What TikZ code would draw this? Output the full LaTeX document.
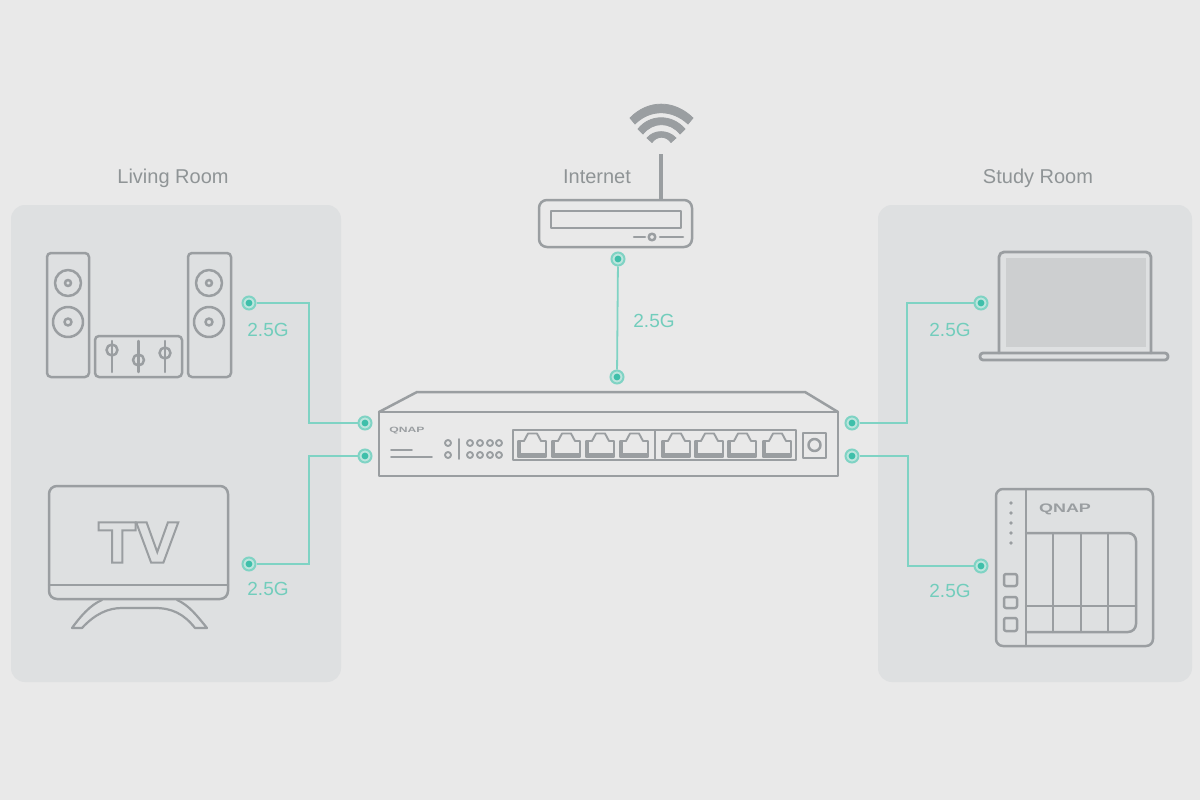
\documentclass[tikz,border=0pt]{standalone}
\usepackage{fontspec}
\setmainfont{Liberation Sans}
\newfontfamily\tvfont{DejaVu Sans}
\definecolor{bgc}{HTML}{E9E9E9}
\definecolor{panelc}{HTML}{DEE0E1}
\definecolor{linec}{HTML}{9A9EA1}
\definecolor{textc}{HTML}{8F9496}
\definecolor{tealc}{HTML}{7FD3C4}
\definecolor{tealfill}{HTML}{BCE5DD}
\definecolor{tealdark}{HTML}{3FBFAA}
\definecolor{tealtext}{HTML}{72CDBC}
\definecolor{screenc}{HTML}{CDCFD0}
\tikzset{
  panel/.style={fill=panelc,rounded corners=14pt,draw=none},
  icon/.style={draw=linec,line width=2.5pt,line join=round,line cap=round},
  thinicon/.style={draw=linec,line width=1.9pt,line join=round,line cap=round},
  link/.style={draw=tealc,line width=1.8pt},
  portdot/.style={circle,draw=tealc,line width=2pt,fill=tealfill,minimum size=13pt,inner sep=0pt,
    path picture={\fill[tealdark] (path picture bounding box.center) circle (3.4pt);}},
  title/.style={text=textc,font=\fontsize{20}{24}\selectfont,inner sep=0pt},
  speed/.style={text=tealtext,font=\fontsize{19}{23}\selectfont,inner sep=0pt},
  logo/.style={text=linec,inner sep=0pt},
}
\newcommand{\rjport}[1]{%
  \fill[linec] (#1-14,441) rectangle (#1-11,457);
  \draw[thinicon] (#1-14,457) -- (#1-14,441) -- (#1-8,441) -- (#1-4,433.5) -- (#1+5,433.5) -- (#1+9,441) -- (#1+14,441) -- (#1+14,457) -- cycle;
  \fill[linec] (#1-14,452.5) rectangle (#1+14,457);
}
\begin{document}
\begin{tikzpicture}[x=1pt,y=-1pt]
\useasboundingbox (0,0) rectangle (1200,800);
\fill[bgc] (0,0) rectangle (1200,800);
\path[panel] (11,205) rectangle (341,682);
\path[panel] (878,205) rectangle (1192,682);

\node[title] (tl) at (173,178.5) {Living Room};
\node[title] (tc) at (597,177) {Internet};
\node[title] (tr) at (1038,178.5) {Study Room};

% speakers
\draw[icon,rounded corners=4pt] (47,253) rectangle (89,377);
\draw[icon,rounded corners=4pt] (188,253) rectangle (231,377);
\draw[icon,rounded corners=4pt] (95,336) rectangle (182,377);
\foreach \x in {68,209}{
  \draw[icon] (\x,283) circle (13);
  \draw[icon] (\x,283) circle (3);
  \draw[icon] (\x,322) circle (15);
  \draw[icon] (\x,322) circle (3.5);
}
\foreach \x/\y in {112/350,138.5/360,165/353}{
  \draw[icon] (\x,341) -- (\x,372);
  \draw[icon] (\x,\y) circle (5.5);
}
% TV
\draw[icon,rounded corners=8pt] (49,486) rectangle (228,599);
\draw[icon] (49,585) -- (228,585);
\node[inner sep=0pt,text=linec] (tv) at (138.5,542.5) {\fontsize{55}{60}\selectfont\tvfont\bfseries\special{pdf:code q 1 Tr 2 w 0 j 0.604 0.62 0.631 RG}TV\special{pdf:code Q}};
\draw[thinicon,line width=2.2pt] (102,600) .. controls (90,605) and (80,617) .. (72,628) -- (82,628)
  .. controls (95,614) and (108,608) .. (122,608) -- (155,608)
  .. controls (172,608) and (184,614) .. (195,628) -- (207,628)
  .. controls (198,617) and (189,605) .. (177,600);

% router
\fill[linec,draw=linec,line width=0.8pt,line join=round] (630,118) .. controls (648,99.5) and (674,99.5) .. (693,118) -- (688,124) .. controls (672,109) and (650,109) .. (635,124) -- cycle;
\fill[linec,draw=linec,line width=0.8pt,line join=round] (638,129) .. controls (650,114) and (672,114) .. (685,129) -- (680,134) .. controls (670,121.5) and (653,121.5) .. (643,134) -- cycle;
\fill[linec,draw=linec,line width=0.8pt,line join=round] (647,138) .. controls (654,129.5) and (668,129.5) .. (676,138) -- (671,142.5) .. controls (666,135.5) and (657,135.5) .. (652,142.5) -- cycle;
\draw[icon,line width=3.5pt,line cap=butt] (661,154) -- (661,200);
\draw[icon,rounded corners=8pt] (539,200) rectangle (692,247);
\draw[icon] (551,211) rectangle (681,228);
\draw[icon] (634,237) -- (645,237);
\draw[icon] (652,237) circle (3.3);
\draw[icon] (660,237) -- (683,237);

% switch
\draw[icon] (379,412) -- (417,392) -- (805,392) -- (838,412);
\draw[icon] (379,412) rectangle (838,476);
\node[logo] (logo1) at (407,431) {\scalebox{1.35}[0.85]{\fontsize{9}{10}\selectfont\bfseries QNAP}};
\draw[thinicon] (391,450) -- (412,450);
\draw[thinicon] (391,457) -- (432,457);
\foreach \y in {443,455}{
  \draw[thinicon] (448,\y) circle (3);
  \foreach \x in {470,480,490,499}{\draw[thinicon] (\x,\y) circle (3);}
}
\draw[thinicon] (459,439) -- (459,459);
\draw[icon] (513,430) rectangle (796,460);
\draw[thinicon] (655,430) -- (655,460);
\foreach \c in {532,566,600,634,676,709,742,777}{\rjport{\c}}
\draw[icon] (803,433) rectangle (826,458);
\draw[icon] (814.5,445) circle (6);

% laptop
\fill[screenc] (1006,258) rectangle (1146,347);
\draw[icon,line width=2.8pt,rounded corners=5pt] (999,353) -- (999,252) -- (1151,252) -- (1151,353);
\draw[icon,line width=2.8pt,rounded corners=3pt] (980,353) rectangle (1168,360);

% NAS
\draw[icon,rounded corners=7pt] (996,489) rectangle (1153,646);
\draw[icon] (1026,489) -- (1026,646);
\foreach \y in {503,513,523,533,543}{\fill[linec] (1011,\y) circle (1.8);}
\draw[icon,rounded corners=2pt] (1004,574) rectangle (1017,586);
\draw[icon,rounded corners=2pt] (1004,597) rectangle (1017,608);
\draw[icon,rounded corners=2pt] (1004,618) rectangle (1017,631);
\draw[icon,rounded corners=8pt] (1026,533) -- (1136,533) -- (1136,632) -- (1026,632);
\draw[icon] (1026,606) -- (1136,606);
\foreach \x in {1053,1081,1108}{\draw[icon] (\x,533) -- (\x,632);}
\node[logo] (logo2) at (1065,509.5) {\scalebox{1.38}[0.95]{\fontsize{13}{14}\selectfont\bfseries QNAP}};

% connectors
\coordinate (m1) at (309,360);
\coordinate (m2) at (309,510);
\coordinate (m3) at (907,360);
\coordinate (m4) at (908,510);
\node[portdot] (d1) at (249,303) {};
\node[portdot] (d2) at (365,423) {};
\node[portdot] (d3) at (249,564) {};
\node[portdot] (d4) at (365,456) {};
\node[portdot] (d5) at (618,259) {};
\node[portdot] (d6) at (617,377) {};
\node[portdot] (d7) at (852,423) {};
\node[portdot] (d8) at (981,303) {};
\node[portdot] (d9) at (852,456) {};
\node[portdot] (d10) at (981,566) {};
\draw[link] (d1) -| (m1) |- (d2);
\draw[link] (d3) -| (m2) |- (d4);
\draw[link] (d5) -- (d6);
\draw[link] (d7) -| (m3) |- (d8);
\draw[link] (d9) -| (m4) |- (d10);

\node[speed] (s1) at (268,329.5) {2.5G};
\node[speed] (s2) at (268,588.5) {2.5G};
\node[speed] (s3) at (654,320.5) {2.5G};
\node[speed] (s4) at (950,329.5) {2.5G};
\node[speed] (s5) at (950,590.5) {2.5G};
\end{tikzpicture}
\end{document}
